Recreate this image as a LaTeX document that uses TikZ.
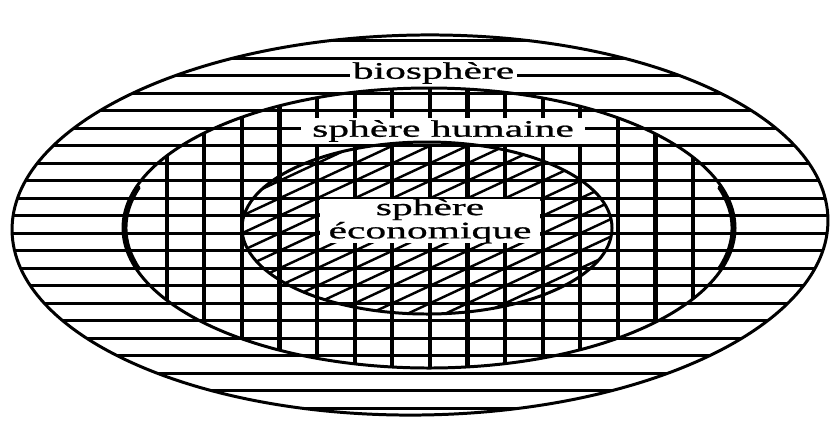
\documentclass[tikz,border=0pt]{standalone}
\usepackage{fontspec}
\setmainfont{Liberation Serif}
\newfontfamily\labelfont{Liberation Serif}[FakeStretch=1.75, FakeBold=0.9]

\begin{document}
\begin{tikzpicture}[
  x=0.02cm, y=-0.02cm,
  hatch/.style={line width=1.5pt},
  bar/.style={line width=2.3pt},
  slant/.style={line width=1.4pt},
  rim/.style={line width=1.7pt},
  biozone/.style={shift={(420,225)}, rotate=0.8},
  tag/.style={fill=white, inner sep=0pt, align=center,
              font=\labelfont\fontsize{13.5}{11.5}\selectfont}
]
\useasboundingbox (0,0) rectangle (830,437);

% biosphere: horizontal hatching
\begin{scope}
  \clip[biozone] (0,0) ellipse [x radius=408, y radius=190];
  \foreach \k in {-1,...,20}
    \draw[hatch] (0,58.3+17.5*\k) -- (830,58.3+17.5*\k);
\end{scope}

% human sphere: vertical bars
\begin{scope}
  \clip (429,228) ellipse [x radius=306, y radius=140];
  \foreach \i in {0,...,14}
    \draw[bar] (166.7+37.6*\i,80) -- (166.7+37.6*\i,380);
\end{scope}

% economic sphere: slanted hatching
\begin{scope}
  \clip (427,228) ellipse [x radius=185, y radius=86];
  \foreach \j in {5,...,30}
    \draw[slant] (129.1,75.8+17.5*\j) -- (693.1,58.3+17.5*\j-245);
\end{scope}

\node[tag, minimum width=3.34cm, minimum height=0.44cm] (bio) at (433.5,73) {biosphère};
\node[tag, minimum width=5.68cm, minimum height=0.52cm] (hum) at (443,131) {sphère humaine};
\node[tag, minimum width=4.4cm, minimum height=0.84cm] (eco) at (430,221) {sphère\\économique};

\draw[rim, biozone] (0,0) ellipse [x radius=408, y radius=190];
\draw[rim] (429,228) ellipse [x radius=306, y radius=140];
\draw[rim] (427,228) ellipse [x radius=185, y radius=86];
% heavier print on the sides of the human sphere
\draw[line width=2.2pt, line cap=round] (429,228) ++(163:303.5 and 138.5) arc [start angle=163, end angle=197, x radius=303.5, y radius=138.5];
\draw[line width=2.2pt, line cap=round] (429,228) ++(-17:303.5 and 138.5) arc [start angle=-17, end angle=17, x radius=303.5, y radius=138.5];
\end{tikzpicture}
\end{document}
